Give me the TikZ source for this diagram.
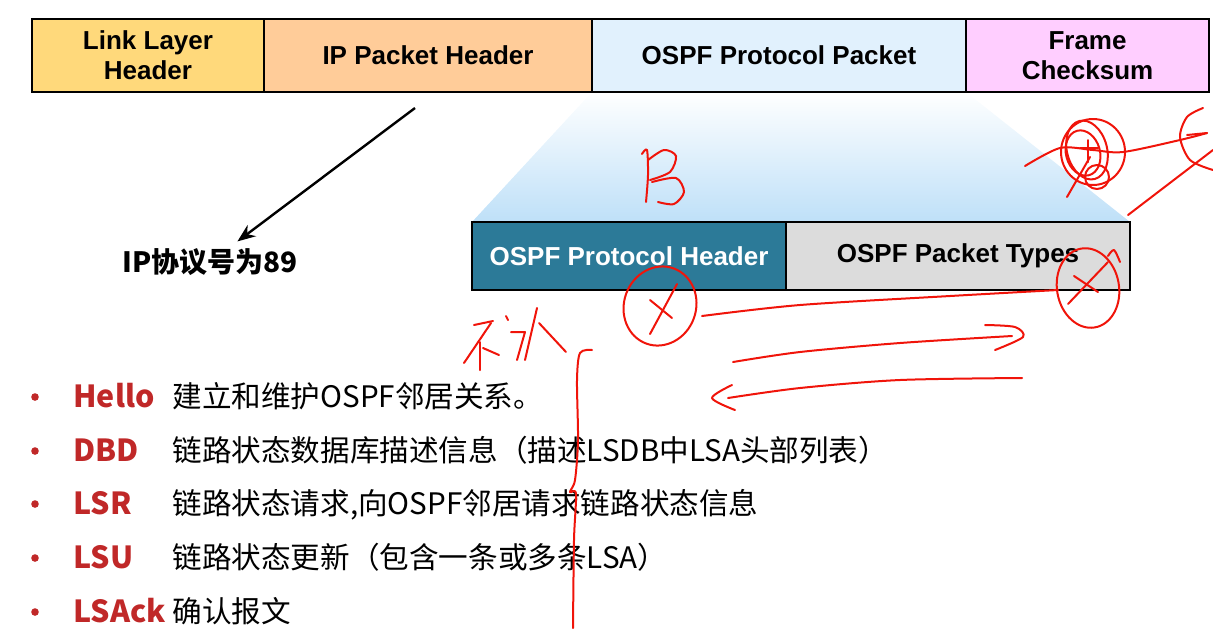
\documentclass[tikz,border=0pt]{standalone}
\usepackage{fontspec}
\setmainfont{Liberation Sans}
\newfontfamily\cjk{Noto Sans CJK SC}
\usepackage{tikz}
\usetikzlibrary{arrows.meta, positioning, calc, backgrounds}
\definecolor{linkyellow}{RGB}{255,217,123}
\definecolor{ippeach}{RGB}{255,204,153}
\definecolor{ospfblue}{RGB}{225,241,253}
\definecolor{crcpink}{RGB}{255,206,255}
\definecolor{hdrteal}{RGB}{44,122,152}
\definecolor{typegray}{RGB}{220,220,220}
\definecolor{fadeblue}{RGB}{190,224,248}
\definecolor{kwred}{RGB}{192,40,40}
\definecolor{penred}{RGB}{240,20,10}
\tikzset{
  cell/.style={rectangle, draw=black, line width=1.2pt, inner sep=0pt, outer sep=0pt,
    minimum height=36.5pt, align=center, font=\fontsize{13pt}{15pt}\selectfont\bfseries},
  subcell/.style={cell, minimum height=34pt},
  kw/.style={anchor=base west, inner sep=0pt, text=kwred,
    font=\cjk\fontsize{15.2pt}{18pt}\selectfont\bfseries},
  desc/.style={anchor=base west, inner sep=0pt, font=\cjk\fontsize{14.8pt}{17pt}\selectfont},
  bullet/.style={circle, fill=kwred, inner sep=0pt, minimum size=3.8pt},
  arrow/.style={-{Stealth[length=9pt, width=7pt]}, line width=1.2pt, color=black},
  pen/.style={line width=1pt, color=penred, line cap=round, line join=round}
}

\begin{document}
\begin{tikzpicture}[x=0.5pt, y=-0.5pt]
  \useasboundingbox (0,0) rectangle (1213,628);

  % frame layout
  \node[cell, fill=linkyellow, minimum width=116pt, anchor=north west] (link) at (32,19) {Link Layer\\Header};
  \node[cell, fill=ippeach, minimum width=164pt, right=0pt of link] (iphdr) {IP Packet Header};
  \node[cell, fill=ospfblue, minimum width=187pt, right=0pt of iphdr] (ospfpkt) {OSPF Protocol Packet};
  \node[cell, fill=crcpink, minimum width=121.5pt, right=0pt of ospfpkt] (crc) {Frame\\Checksum};

  % zoom into the OSPF packet
  \node[subcell, fill=hdrteal, text=white, minimum width=157pt, anchor=north west] (ospfhdr) at (472,222) {OSPF Protocol Header};
  \node[subcell, fill=typegray, minimum width=172pt, right=0pt of ospfhdr] (pkttypes) {OSPF Packet Types};
  \begin{scope}[on background layer]
    \shade[top color=white, bottom color=fadeblue] (ospfpkt.south west) -- (ospfpkt.south east)
      -- (pkttypes.north east) -- (ospfhdr.north west) -- cycle;
  \end{scope}

  \node[font=\cjk\fontsize{14pt}{16pt}\selectfont\bfseries] (protonum) at (210,262) {IP协议号为89};
  \coordinate (tail) at (415,108);
  \draw[arrow] (tail) -- (protonum);

  % packet types
  \node[bullet] (b1) at (35,397) {};
  \node[kw] (kw1) at (73,407) {Hello};
  \node[desc] (txt1) at (172,407) {建立和维护OSPF邻居关系。};
  \node[bullet] (b2) at (35,451) {};
  \node[kw] (kw2) at (73,461) {DBD};
  \node[desc] (txt2) at (172,461) {链路状态数据库描述信息（描述LSDB中LSA头部列表）};
  \node[bullet] (b3) at (35,504) {};
  \node[kw] (kw3) at (73,514) {LSR};
  \node[desc] (txt3) at (172,514) {链路状态请求,向OSPF邻居请求链路状态信息};
  \node[bullet] (b4) at (35,558) {};
  \node[kw] (kw4) at (73,568) {LSU};
  \node[desc] (txt4) at (172,568) {链路状态更新（包含一条或多条LSA）};
  \node[bullet] (b5) at (35,612) {};
  \node[kw] (kw5) at (73,622) {LSAck};
  \node[desc] (txt5) at (172,622) {确认报文};

  % pen marks
  \draw[pen] plot[smooth] coordinates {(642,154) (647,150) (648,175) (646,202)};
  \draw[pen] plot[smooth] coordinates {(648,160) (664,150) (676,156) (670,172) (650,180)};
  \draw[pen] plot[smooth] coordinates {(652,182) (676,178) (684,192) (674,204) (658,202)};
  \draw[pen, rotate around={-20:(660,306)}] (660,306) ellipse [x radius=36, y radius=40];
  \draw[pen] (677,284) -- (650,334);
  \draw[pen] (650,300) -- (672,318);
  \draw[pen] plot[smooth] coordinates {(702,316) (800,305) (950,296) (1058,290)};
  \draw[pen, rotate around={10:(1088,288)}] (1088,288) ellipse [x radius=31, y radius=40];
  \draw[pen] (1108,262) -- (1068,304);
  \draw[pen] (1074,276) -- (1098,292);
  \draw[pen] plot[smooth] coordinates {(1108,256) (1114,250) (1120,262)};
  \draw[pen] plot[smooth] coordinates {(733,362) (800,352) (900,343) (1012,336)};
  \draw[pen] plot[smooth] coordinates {(985,325) (1015,327) (1023,337) (995,350)};
  \draw[pen] plot[smooth] coordinates {(1022,378) (900,380) (800,388) (728,398)};
  \draw[pen] plot[smooth] coordinates {(732,385) (712,398) (735,410)};
  \draw[pen] plot[smooth] coordinates {(592,350) (580,353) (577,380) (578,440) (575,480)
    (570,492) (576,494) (574,540) (573,628)};
  \draw[pen] (474,325) -- (493,321);
  \draw[pen] (491,323) -- (464,363);
  \draw[pen] (480,342) -- (480,370);
  \draw[pen] (483,348) -- (499,355);
  \draw[pen] (506,316) -- (508,320);
  \draw[pen] (511,332) -- (525,332) -- (517,360);
  \draw[pen] (537,308) -- (525,360);
  \draw[pen] (539,323) -- (566,352);
  \draw[pen] (1093,152) ellipse [x radius=32, y radius=33];
  \draw[pen, rotate around={15:(1083,153)}] (1083,153) ellipse [x radius=17, y radius=23];
  \draw[pen, rotate around={15:(1087,150)}] (1087,150) ellipse [x radius=20, y radius=30];
  \draw[pen] (1097,177) circle [radius=12];
  \draw[pen] plot[smooth] coordinates {(1025,166) (1060,148) (1093,150) (1123,152) (1180,140) (1207,133)};
  \draw[pen] (1088,140) -- (1088,162);
  \draw[pen] (1080,148) -- (1098,148);
  \draw[pen] (1067,197) -- (1090,157);
  \draw[pen] plot[smooth] coordinates {(1203,108) (1187,117) (1180,137) (1190,160) (1213,170)};
  \draw[pen] (1187,135) -- (1207,133);
  \draw[pen] (1128,215) -- (1213,150);
\end{tikzpicture}
\end{document}
